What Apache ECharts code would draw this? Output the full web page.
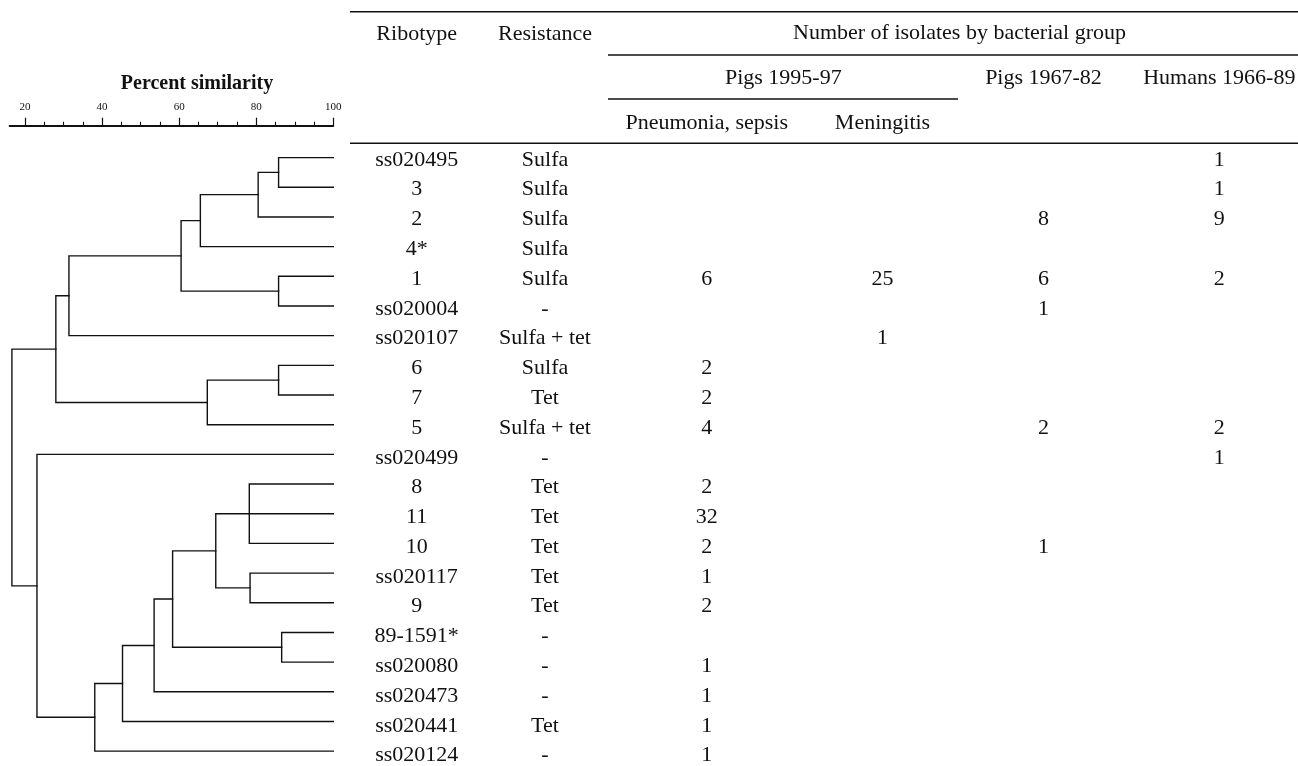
<!DOCTYPE html>
<html>
<head>
<meta charset="utf-8">
<script src="https://cdn.jsdelivr.net/npm/echarts@6/dist/echarts.min.js"></script>
<style>
html,body{margin:0;padding:0;background:#fff;}
#chart{width:1298px;height:766px;}
</style>
</head>
<body>
<div id="chart"></div>
<script>
// ---------------- DATA ----------------
const ribotypes = ['ss020495','3','2','4*','1','ss020004','ss020107','6','7','5','ss020499',
  '8','11','10','ss020117','9','89-1591*','ss020080','ss020473','ss020441','ss020124'];
const resistance = ['Sulfa','Sulfa','Sulfa','Sulfa','Sulfa','-','Sulfa + tet','Sulfa','Tet','Sulfa + tet','-',
  'Tet','Tet','Tet','Tet','Tet','-','-','-','Tet','-'];
const pneumoniaSepsis = [null,null,null,null,6,null,null,2,2,4,null,2,32,2,1,2,null,1,1,1,1];
const meningitis      = [null,null,null,null,25,null,1,null,null,null,null,null,null,null,null,null,null,null,null,null,null];
const pigs1967to82    = [null,null,8,null,6,1,null,null,null,2,null,null,null,1,null,null,null,null,null,null,null];
const humans1966to89  = [1,1,9,null,2,null,null,null,null,2,1,null,null,null,null,null,null,null,null,null,null];

const similarityLabels = [20,40,60,80,100];
const similarityMinor = [25,30,35,45,50,55,65,70,75,85,90,95];

// Dendrogram clusters: percent similarity of each join, and what it joins
// (numbers = leaf rows, 'nK' = earlier cluster K)
const clusterLevels = [85.8, 80.5, 65.5, 85.8, 60.5, 31.4, 85.8, 67.3, 28.0,
  78.2, 78.4, 69.5, 86.6, 58.3, 53.5, 45.3, 38.1, 23.1, 16.6];
const clusterMembers = [
  [0,1], ['n0',2], ['n1',3], [4,5], ['n2','n3'], ['n4',6], [7,8], ['n6',9], ['n5','n7'],
  [11,12,13], [14,15], ['n9','n10'], [16,17], ['n11','n12'], ['n13',18], ['n14',19], ['n15',20],
  [10,'n16'], ['n8','n17']
];

// ---------------- BUILD ----------------
const nodeY = [];
function info(ref){
  if (typeof ref === 'number') return {x:100, y:ref};
  const k = +ref.slice(1);
  return {x:clusterLevels[k], y:nodeY[k]};
}
const treeLines = [];
clusterMembers.forEach((mem, k) => {
  const s = clusterLevels[k];
  const ch = mem.map(info).sort((a,b)=>a.y-b.y);
  const first = ch[0], last = ch[ch.length-1];
  nodeY[k] = (first.y + last.y)/2;
  treeLines.push({coords:[[first.x,first.y],[s,first.y],[s,last.y],[last.x,last.y]]});
  for (let i=1;i<ch.length-1;i++) treeLines.push({coords:[[s,ch[i].y],[ch[i].x,ch[i].y]]});
});

// table column centre positions (layout)
const colX = [416.7, 545, 706.7, 882.5, 1043.5, 1219.3];
const columns = [ribotypes, resistance, pneumoniaSepsis, meningitis, pigs1967to82, humans1966to89];
const cellData = [], cellText = [];
columns.forEach((col, c) => {
  col.forEach((v, r) => {
    if (v === null || v === undefined) return;
    cellData.push([colX[c], r]);
    cellText.push(String(v));
  });
});

const FONT = '"Liberation Serif","Times New Roman",serif';
const INK = '#111';

function hdr(text, x, y){
  return {type:'text', x:x, y:y, style:{text:text, fontFamily:FONT, fontSize:22, fill:INK, align:'center', verticalAlign:'middle'}};
}
function rule(x1, x2, y){
  return {type:'line', shape:{x1:x1, y1:y, x2:x2, y2:y}, style:{stroke:INK, lineWidth:1.6}};
}

const chart = echarts.init(document.getElementById('chart'), null, {renderer:'canvas'});
chart.setOption({
  animation:false,
  backgroundColor:'#fff',
  grid:[
    {left:9.6, width:323.7, top:125.7, height:642.9},
    {left:0, width:1298, top:125.7, height:642.9}
  ],
  xAxis:[
    {gridIndex:0, type:'value', position:'top', min:16, max:100,
      axisLine:{show:true, onZero:false, lineStyle:{color:INK, width:1.8}},
      axisTick:{show:true, customValues:similarityLabels, length:8, inside:false, lineStyle:{color:INK, width:1.2}},
      axisLabel:{show:true, customValues:similarityLabels, margin:13, fontFamily:FONT, fontSize:11, color:INK},
      splitLine:{show:false}},
    {gridIndex:0, type:'value', position:'top', min:16, max:100,
      axisLine:{show:false, onZero:false},
      axisTick:{show:true, customValues:similarityMinor, length:4, inside:false, lineStyle:{color:INK, width:1.1}},
      axisLabel:{show:false}, splitLine:{show:false}},
    {gridIndex:1, type:'value', min:0, max:1298, show:false}
  ],
  yAxis:[
    {gridIndex:0, type:'value', inverse:true, min:-1.074, max:20.5, show:false},
    {gridIndex:1, type:'value', inverse:true, min:-1.147, max:20.35, show:false}
  ],
  series:[
    {type:'lines', coordinateSystem:'cartesian2d', xAxisIndex:0, yAxisIndex:0, polyline:true,
      lineStyle:{color:INK, width:1.4, opacity:1, cap:'square'}, silent:true, data:treeLines},
    {type:'custom', coordinateSystem:'cartesian2d', xAxisIndex:2, yAxisIndex:1, silent:true, clip:false,
      data:cellData,
      renderItem:function(params, api){
        const p = api.coord([api.value(0), api.value(1)]);
        return {type:'text', x:p[0], y:p[1],
          style:{text:cellText[params.dataIndex], fontFamily:FONT, fontSize:22, fill:INK, align:'center', verticalAlign:'middle'}};
      }}
  ],
  graphic:[
    {type:'text', x:197, y:84, style:{text:'Percent similarity', fontFamily:FONT, fontSize:20, fontWeight:'bold', fill:INK, align:'center', verticalAlign:'middle'}},
    rule(350, 1298, 11.7),
    rule(608, 1298, 55),
    rule(608, 958, 99),
    rule(350, 1298, 143.3),
    hdr('Ribotype', 416.7, 34),
    hdr('Resistance', 545, 34),
    hdr('Number of isolates by bacterial group', 959.5, 33),
    hdr('Pigs 1995-97', 783.3, 78),
    hdr('Pigs 1967-82', 1043.5, 78),
    hdr('Humans 1966-89', 1219.3, 78),
    hdr('Pneumonia, sepsis', 706.7, 123),
    hdr('Meningitis', 882.5, 123)
  ]
});
</script>
</body>
</html>
